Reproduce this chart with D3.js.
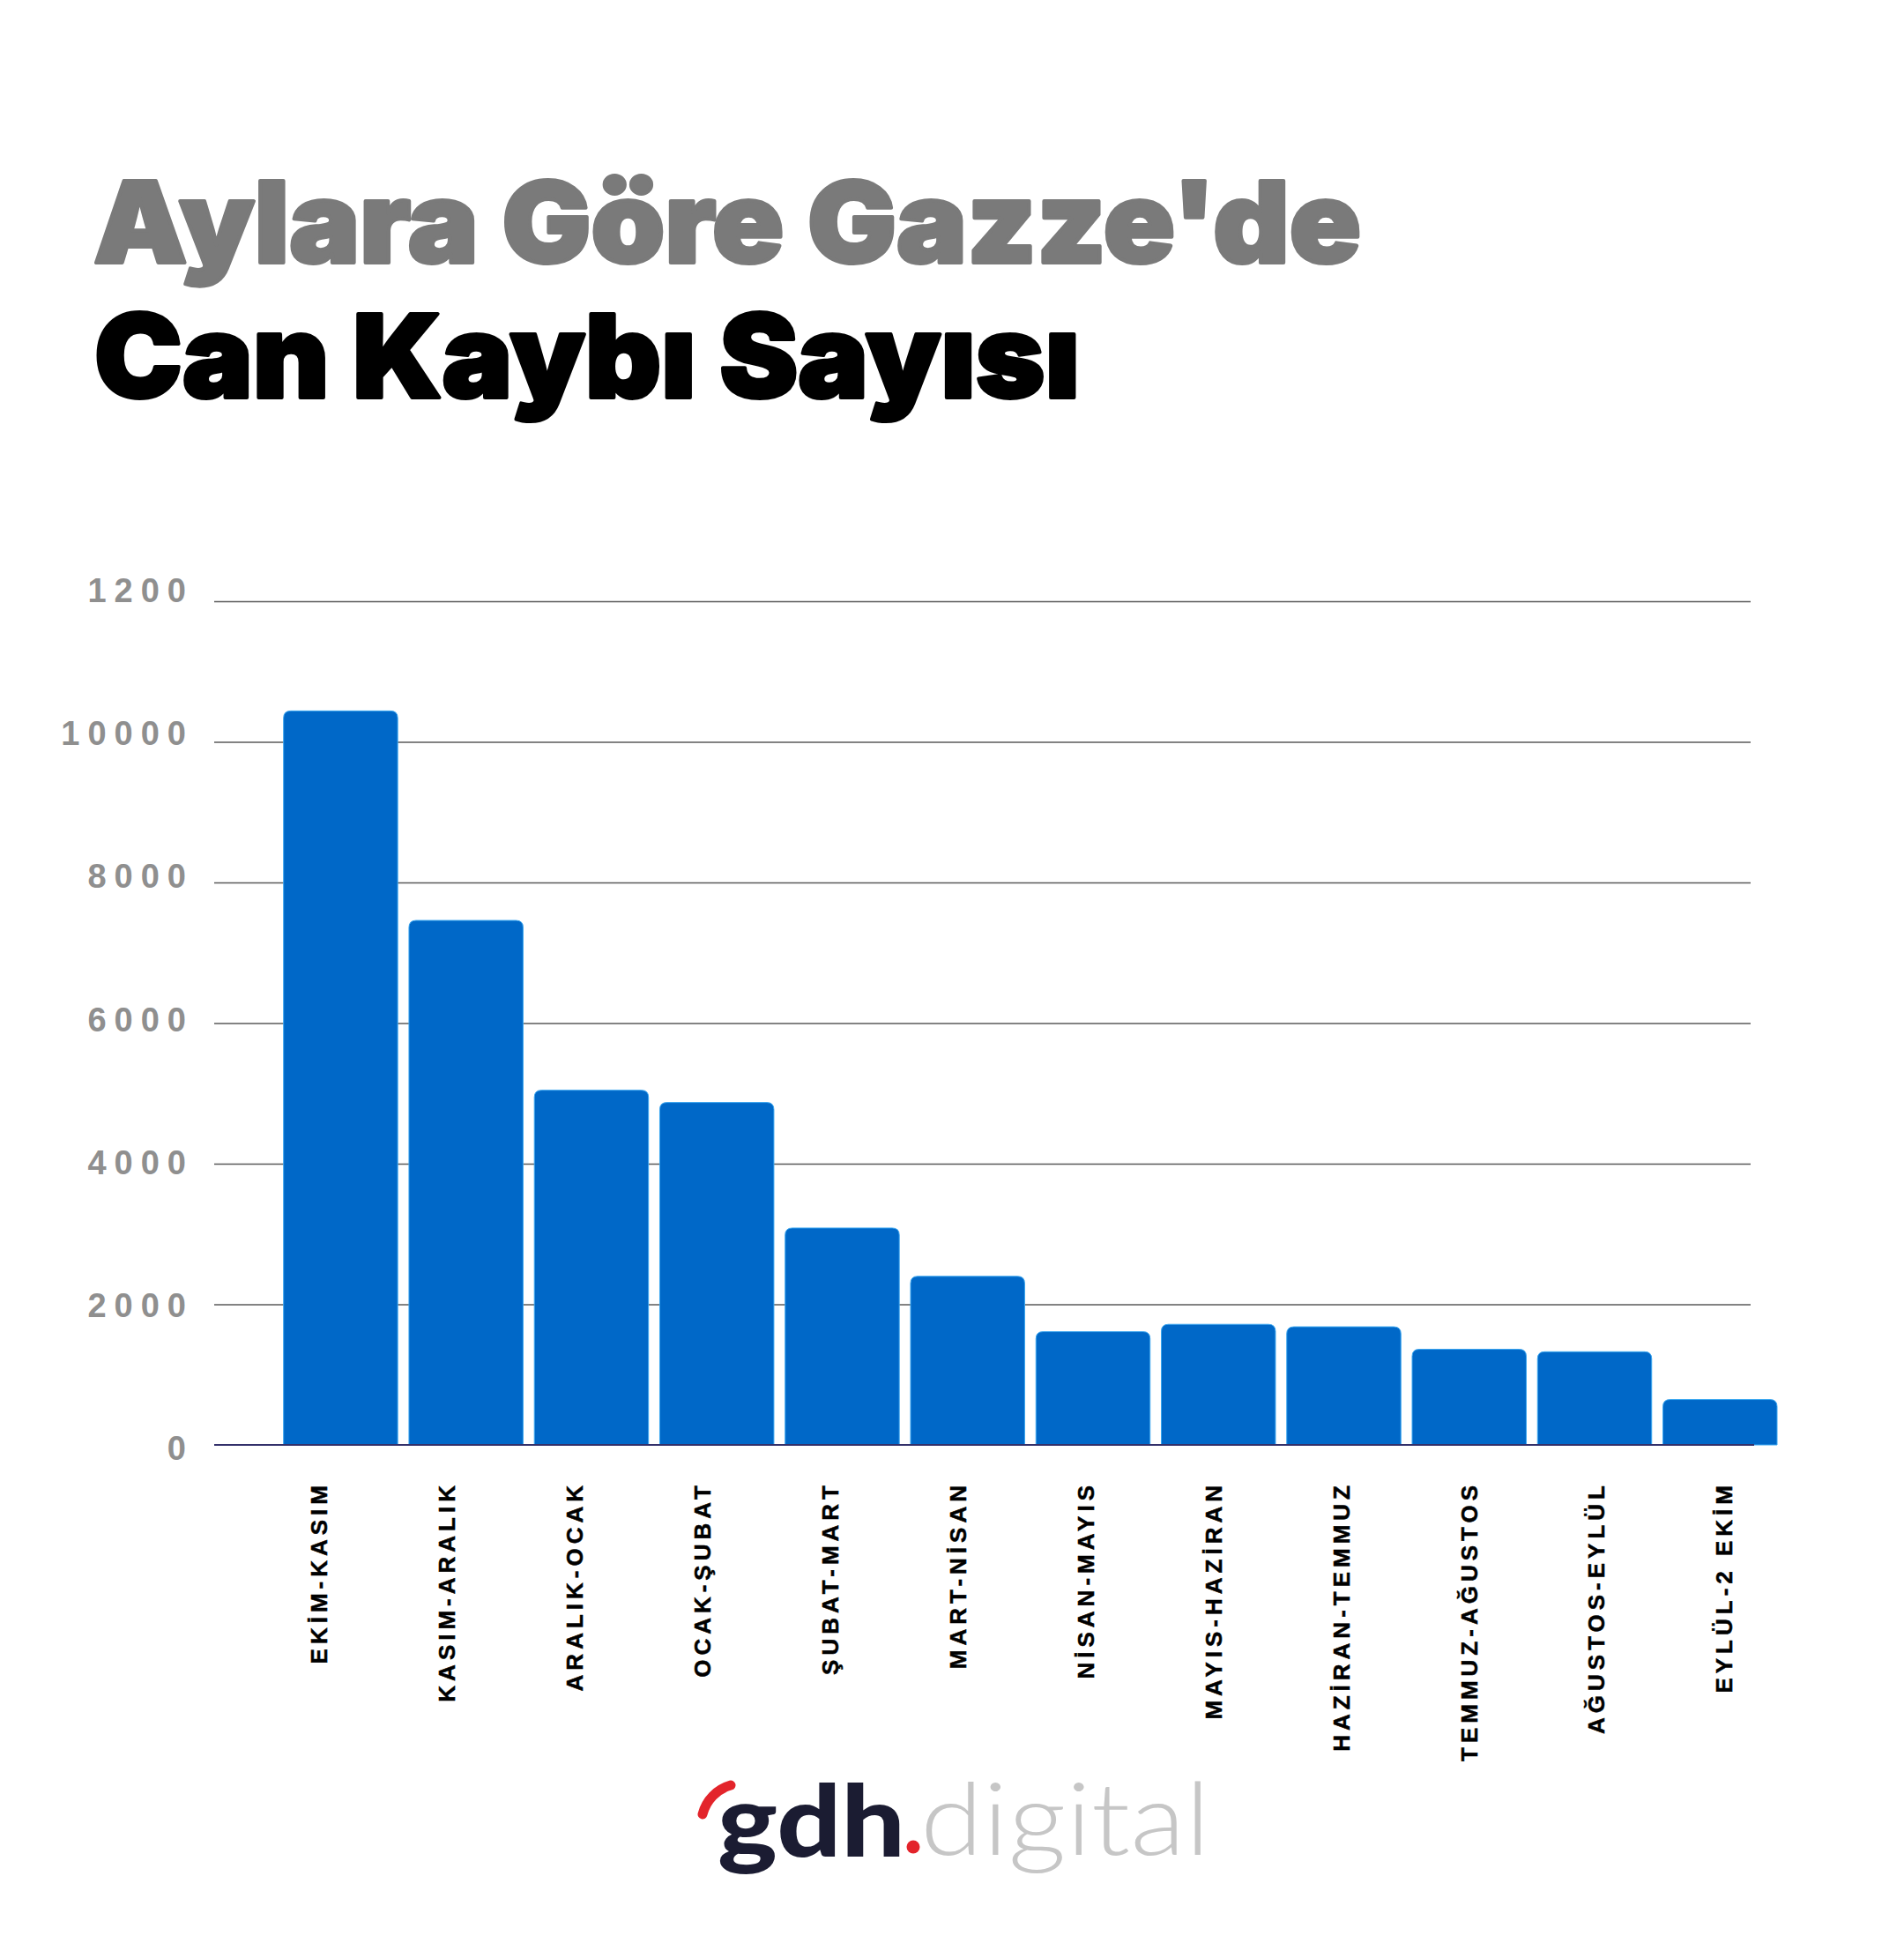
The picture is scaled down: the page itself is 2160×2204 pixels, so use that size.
<!DOCTYPE html>
<html>
<head>
<meta charset="utf-8">
<script src="https://cdn.jsdelivr.net/npm/d3@7"></script>
<style>
  html, body { margin: 0; padding: 0; background: #ffffff; }
  svg { display: block; }
</style>
</head>
<body>
<div id="chart"></div>
<script>
// ---- data ----
const categories = ["EKİM-KASIM", "KASIM-ARALIK", "ARALIK-OCAK", "OCAK-ŞUBAT", "ŞUBAT-MART", "MART-NİSAN",
                    "NİSAN-MAYIS", "MAYIS-HAZİRAN", "HAZİRAN-TEMMUZ", "TEMMUZ-AĞUSTOS", "AĞUSTOS-EYLÜL", "EYLÜL-2 EKİM"];
const deaths = [10440, 7460, 5045, 4870, 3085, 2398, 1610, 1715, 1680, 1360, 1325, 645];
const tickValues = [0, 2000, 4000, 6000, 8000, 10000, 12000];
const tickLabels = ["0", "2000", "4000", "6000", "8000", "10000", "1200"];
const titleLine1 = "Aylara Göre Gazze'de";
const titleLine2 = "Can Kaybı Sayısı";

// ---- layout ----
const W = 2160, H = 2204;
const svg = d3.select("#chart").append("svg")
  .attr("width", W).attr("height", H)
  .attr("viewBox", `0 0 ${W} ${H}`);
svg.append("rect").attr("width", W).attr("height", H).attr("fill", "#ffffff");

// Title
svg.append("text")
  .attr("x", 106).attr("y", 298)
  .attr("font-family", "Inter, Roboto, 'Liberation Sans', sans-serif")
  .attr("font-weight", 900)
  .attr("font-size", 128)
  .attr("fill", "#7a7a7a")
  .attr("stroke", "#7a7a7a")
  .attr("stroke-width", 4)
  .attr("stroke-linejoin", "round")
  .attr("textLength", 1438)
  .attr("lengthAdjust", "spacingAndGlyphs")
  .text(titleLine1);
svg.append("text")
  .attr("x", 107).attr("y", 451)
  .attr("font-family", "Inter, Roboto, 'Liberation Sans', sans-serif")
  .attr("font-weight", 900)
  .attr("font-size", 131)
  .attr("fill", "#000000")
  .attr("stroke", "#000000")
  .attr("stroke-width", 4)
  .attr("stroke-linejoin", "round")
  .attr("textLength", 1118)
  .attr("lengthAdjust", "spacingAndGlyphs")
  .text(titleLine2);

// Scales
const y = d3.scaleLinear().domain([0, 12000]).range([1639, 682]);
const yLabel = d3.scaleLinear().domain([0, 12000]).range([1656, 683]);
const x = d3.scaleBand().domain(categories).range([321.7, 2016]).paddingInner(0.09).paddingOuter(0);
const xLabel = d3.scalePoint().domain(categories).range([362, 1956]);

const gridLeft = 243, gridRight = 1986;

// Gridlines via axis
const gridAxis = d3.axisLeft(y)
  .tickValues(tickValues.filter(d => d !== 0))
  .tickSize(-(gridRight - gridLeft))
  .tickFormat("");
const gGrid = svg.append("g")
  .attr("transform", `translate(${gridLeft},0)`)
  .call(gridAxis);
gGrid.select(".domain").remove();
gGrid.selectAll(".tick line")
  .attr("stroke", "#5a5a5a")
  .attr("stroke-width", 1.5);

// Y tick labels
svg.append("g").selectAll("text")
  .data(tickValues)
  .join("text")
  .attr("x", 220)
  .attr("y", d => yLabel(d))
  .attr("text-anchor", "end")
  .attr("font-family", "'Liberation Sans', Arial, sans-serif")
  .attr("font-weight", 700)
  .attr("font-size", 38)
  .attr("letter-spacing", 9)
  .attr("fill", "#8f8f8f")
  .text((d, i) => tickLabels[i]);

// Bars with rounded top corners
function topRounded(x0, y0, w, h, r) {
  r = Math.min(r, h, w / 2);
  return `M${x0},${y0 + h}V${y0 + r}Q${x0},${y0} ${x0 + r},${y0}H${x0 + w - r}Q${x0 + w},${y0} ${x0 + w},${y0 + r}V${y0 + h}Z`;
}
svg.append("g").selectAll("path")
  .data(categories.map((c, i) => ({ c, v: deaths[i] })))
  .join("path")
  .attr("d", d => topRounded(x(d.c), y(d.v), x.bandwidth(), y(0) - y(d.v), 8))
  .attr("fill", "#0068c8")
  .attr("stroke", "#3aa6f0")
  .attr("stroke-width", 1);

// Baseline
svg.append("line")
  .attr("x1", gridLeft).attr("x2", 1990)
  .attr("y1", y(0)).attr("y2", y(0))
  .attr("stroke", "#33306a")
  .attr("stroke-width", 2);

// X labels (rotated)
svg.append("g").selectAll("text")
  .data(categories)
  .join("text")
  .attr("transform", d => `translate(${xLabel(d)},1680) rotate(-90)`)
  .attr("text-anchor", "end")
  .attr("dy", "0.36em")
  .attr("font-family", "'Liberation Sans', Arial, sans-serif")
  .attr("font-weight", 700)
  .attr("font-size", 26)
  .attr("letter-spacing", 5)
  .attr("fill", "#000000")
  .attr("stroke", "#000000")
  .attr("stroke-width", 0.5)
  .text(d => d);

// Logo
const logo = svg.append("g");
logo.append("path")
  .attr("d", "M797,2058 A46,46 0 0 1 829,2025")
  .attr("fill", "none")
  .attr("stroke", "#e3242b")
  .attr("stroke-width", 11)
  .attr("stroke-linecap", "round");
logo.append("text")
  .attr("x", 814).attr("y", 2106)
  .attr("font-family", "Lato, 'Open Sans', sans-serif")
  .attr("font-weight", 900)
  .attr("font-size", 112)
  .attr("fill", "#1b1c32")
  .attr("textLength", 213)
  .attr("lengthAdjust", "spacingAndGlyphs")
  .text("gdh");
logo.append("circle")
  .attr("cx", 1036).attr("cy", 2095).attr("r", 7.5)
  .attr("fill", "#e3242b");
logo.append("text")
  .attr("x", 1044).attr("y", 2104)
  .attr("font-family", "Lato, 'Open Sans', sans-serif")
  .attr("font-weight", 300)
  .attr("font-size", 114)
  .attr("fill", "#c6c6c6")
  .attr("textLength", 329)
  .attr("lengthAdjust", "spacingAndGlyphs")
  .text("digital");
</script>
</body>
</html>
